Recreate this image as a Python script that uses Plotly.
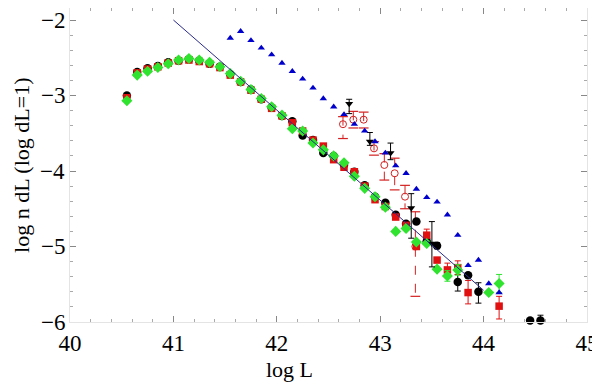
import plotly.graph_objects as go

# main sample: black circles, red squares, green diamonds
L_main = [40.55, 40.65, 40.75, 40.85, 40.95, 41.05, 41.15, 41.25, 41.35, 41.45,
          41.55, 41.65, 41.75, 41.85, 41.95, 42.05, 42.15, 42.25, 42.35, 42.45,
          42.55, 42.65, 42.75, 42.85, 42.95, 43.05, 43.15, 43.25]
black_main = [-3.00, -2.69, -2.64, -2.61, -2.56, -2.54, -2.52, -2.54, -2.58, -2.62,
              -2.72, -2.82, -2.92, -3.05, -3.16, -3.27, -3.34, -3.53, -3.59, -3.76,
              -3.80, -3.92, -4.01, -4.19, -4.34, -4.42, -4.58, -4.70]
red_main = [-3.03, -2.70, -2.65, -2.62, -2.57, -2.54, -2.53, -2.55, -2.58, -2.63,
            -2.73, -2.82, -2.93, -3.05, -3.17, -3.27, -3.36, -3.47, -3.59, -3.67,
            -3.85, -3.95, -4.01, -4.20, -4.38, -4.47, -4.61, -4.72]
green_main = [-3.07, -2.73, -2.68, -2.63, -2.58, -2.53, -2.51, -2.53, -2.56, -2.62,
              -2.71, -2.81, -2.92, -3.04, -3.15, -3.26, -3.44, -3.47, -3.63, -3.72,
              -3.80, -3.89, -4.07, -4.23, -4.34, -4.48, -4.80, -4.76]

# bright end with error bars
L_black_hi = [43.35, 43.45, 43.55, 43.75, 43.85, 43.95, 44.45, 44.55]
black_hi = [-4.67, -4.93, -4.99, -5.47, -5.38, -5.60, -5.98, -5.98]
black_hi_up = [0.0, 0.0, 0.04, 0.10, 0.0, 0.12, 0.0, 0.07]
black_hi_dn = [0.0, 0.0, 0.04, 0.12, 0.0, 0.15, 0.0, 0.0]

L_red_hi = [43.35, 43.45, 43.55, 43.65, 43.75, 43.85, 44.15]
red_hi = [-5.00, -4.85, -5.18, -5.31, -5.28, -5.61, -5.79]
red_hi_up = [0.0, 0.08, 0.0, 0.09, 0.09, 0.16, 0.13]
red_hi_dn = [0.0, 0.08, 0.0, 0.09, 0.09, 0.15, 0.17]

L_green_hi = [43.35, 43.45, 43.55, 43.65, 43.75, 44.05, 44.15]
green_hi = [-4.94, -4.96, -5.30, -5.39, -5.31, -5.61, -5.49]
green_hi_up = [0.0, 0.0, 0.0, 0.07, 0.07, 0.0, 0.12]
green_hi_dn = [0.0, 0.0, 0.0, 0.07, 0.07, 0.0, 0.12]

# blue triangles
L_blue = [41.55, 41.65, 41.75, 41.85, 41.95, 42.05, 42.15, 42.25, 42.35, 42.45,
          42.55, 42.65, 42.75, 42.85, 42.95, 43.05, 43.15, 43.25, 43.35, 43.45,
          43.55, 43.65, 43.75, 43.85, 43.95, 44.05, 44.15]
blue = [-2.24, -2.15, -2.27, -2.37, -2.46, -2.57, -2.68, -2.78, -2.90, -3.04,
        -3.15, -3.25, -3.38, -3.47, -3.61, -3.76, -3.93, -4.03, -4.24, -4.35,
        -4.41, -4.58, -4.85, -5.25, -5.18, -5.49, -5.61]

# black down triangles with errors
L_tri = [42.7, 42.9, 43.1, 43.3, 43.5]
tri = [-3.11, -3.61, -3.76, -4.49, -4.96]
tri_up = [0.06, 0.12, 0.13, 0.19, 0.29]
tri_dn = [0.13, 0.05, 0.09, 0.40, 0.31]

# red open circles with errors
L_open = [42.64, 42.74, 42.84, 42.94, 43.04, 43.14, 43.24, 43.34]
open_c = [-3.38, -3.32, -3.32, -3.70, -3.92, -4.03, -4.34, -5.00]
open_up = [0.10, 0.11, 0.10, 0.09, 0.15, 0.20, 0.15, 0.46]
open_dn = [0.19, 0.11, 0.11, 0.09, 0.20, 0.22, 0.16, 0.66]

# power-law line
line_x = [41.0, 44.0]
line_y = [-2.0, -5.58]

# y tick labels
y_ticks = [-2, -3, -4, -5, -6]
y_ticktext = ["\u22122", "\u22123", "\u22124", "\u22125", "\u22126"]

BLACK = "#000000"
RED = "#e01010"
GREEN = "#2fe32f"
BLUE = "#0000cc"
ORED = "#d42020"
SERIF = "Liberation Serif, Times New Roman, serif"

fig = go.Figure()


def pts(x, y, color, symbol, size, up=None, dn=None):
    err = None
    if up is not None:
        err = dict(type="data", symmetric=False, array=up, arrayminus=dn,
                   color=color, thickness=1, width=3)
    fig.add_trace(go.Scatter(x=x, y=y, mode="markers", error_y=err,
                             marker=dict(color=color, symbol=symbol, size=size),
                             showlegend=False, cliponaxis=False))


# open circle series: dashed vertical bars with caps
ex, ey, cx, cy = [], [], [], []
for x, y, u, d in zip(L_open, open_c, open_up, open_dn):
    ex += [x, x, None]
    ey += [y + u, y - d, None]
    cx += [x, x]
    cy += [y + u, y - d]
fig.add_trace(go.Scatter(x=ex, y=ey, mode="lines", showlegend=False,
                         line=dict(color=ORED, width=1, dash="dash")))
fig.add_trace(go.Scatter(x=cx, y=cy, mode="markers", showlegend=False,
                         marker=dict(symbol="line-ew-open", size=7, color=ORED,
                                     line=dict(color=ORED, width=1.2))))
fig.add_trace(go.Scatter(x=L_open, y=open_c, mode="markers", showlegend=False,
                         marker=dict(symbol="circle-open", size=7, color=ORED,
                                     line=dict(color=ORED, width=1))))

pts(L_main, black_main, BLACK, "circle", 8.5)
pts(L_black_hi, black_hi, BLACK, "circle", 8.5, black_hi_up, black_hi_dn)
pts(L_main, red_main, RED, "square", 7.5)
pts(L_red_hi, red_hi, RED, "square", 7.5, red_hi_up, red_hi_dn)
pts(L_main, green_main, GREEN, "diamond", 8.5)
pts(L_green_hi, green_hi, GREEN, "diamond", 8.5, green_hi_up, green_hi_dn)
pts(L_tri, tri, BLACK, "triangle-down", 7, tri_up, tri_dn)
pts(L_blue, blue, BLUE, "triangle-up", 6.5)

fig.add_trace(go.Scatter(x=line_x, y=line_y, mode="lines", showlegend=False,
                         line=dict(color="#2a2a8a", width=1)))

axis_common = dict(showgrid=False, zeroline=False, ticks="inside", ticklen=6,
                   tickcolor="#888888", showline=True, linecolor="#e4e4e4",
                   mirror="ticks", automargin=False,
                   tickfont=dict(family=SERIF, size=23, color="black"),
                   minor=dict(ticks="inside", ticklen=3, dtick=0.2, tickcolor="#aaaaaa"))

annots = [
    dict(text="log L", xref="paper", yref="paper", x=0.4255, y=-0.15,
         xanchor="center", yanchor="middle", showarrow=False,
         font=dict(family=SERIF, size=22, color="black")),
    dict(text="log n dL (log dL=1)", xref="paper", yref="paper", x=-0.095, y=0.5,
         xanchor="center", yanchor="middle", textangle=-90, showarrow=False,
         font=dict(family=SERIF, size=22, color="black")),
]
for v, t in zip(y_ticks, y_ticktext):
    annots.append(dict(text=t, xref="paper", yref="y", x=0, y=v, xanchor="right",
                       yanchor="middle", xshift=-3, showarrow=False,
                       font=dict(family=SERIF, size=23, color="black")))

# the page body adds an 8px offset, so the figure is 8px smaller than the window
fig.update_layout(
    width=592, height=378,
    margin=dict(l=62, r=13, t=0, b=64),
    paper_bgcolor="white", plot_bgcolor="white",
    font=dict(family=SERIF, color="black"),
    xaxis=dict(range=[40, 45], dtick=1, **axis_common),
    yaxis=dict(range=[-6, -1.841], tickvals=y_ticks, showticklabels=False,
               **axis_common),
    annotations=annots,
)

fig.write_html("out.html")
